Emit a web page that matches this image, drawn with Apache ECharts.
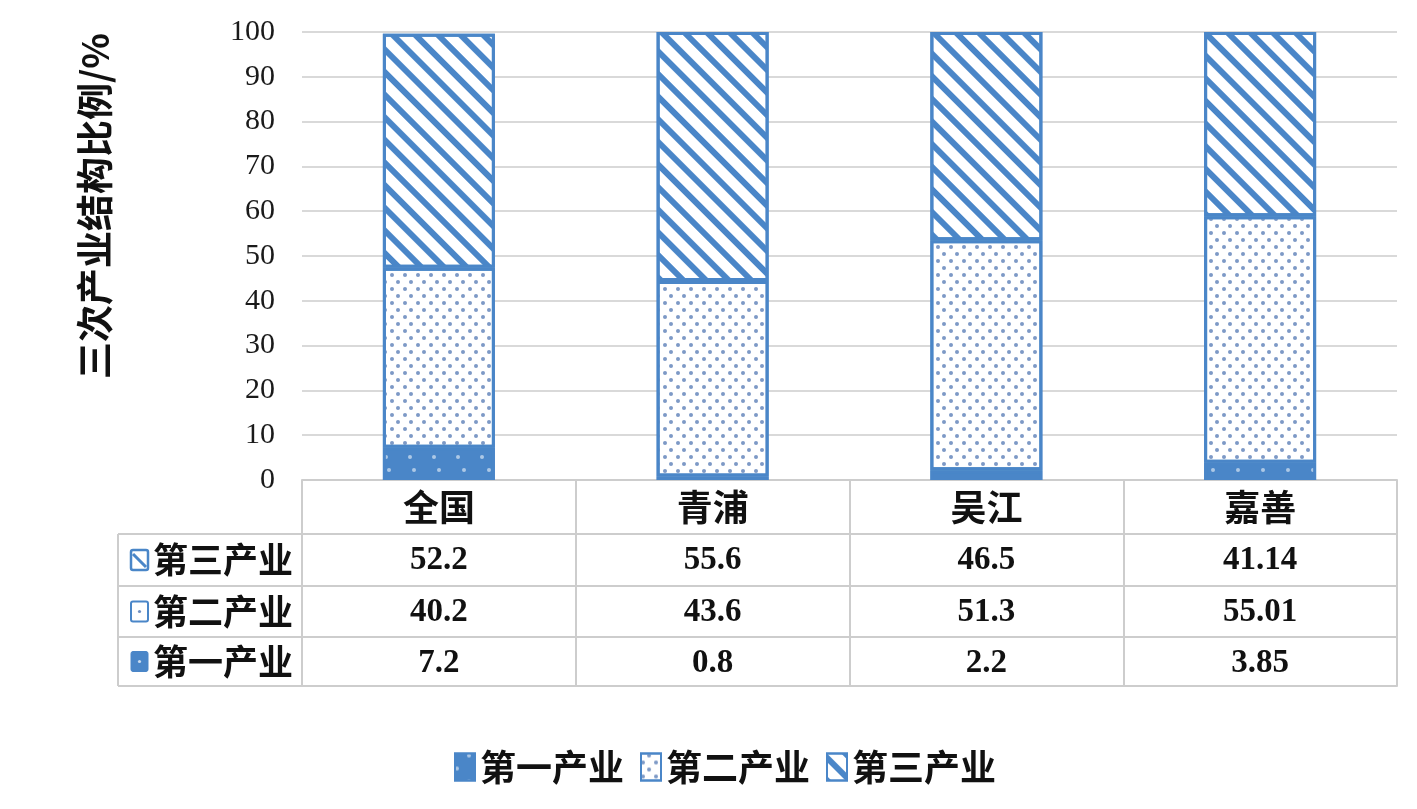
<!DOCTYPE html>
<html><head><meta charset="utf-8">
<script src="https://cdn.jsdelivr.net/npm/echarts@6/dist/echarts.min.js"></script>
<style>html,body{margin:0;padding:0;background:#fff}#c{width:1417px;height:809px}</style>
</head><body><div id="c"></div>
<script>
const categories = ['全国', '青浦', '吴江', '嘉善'];
const primary = [7.2, 0.8, 2.2, 3.85];
const secondary = [40.2, 43.6, 51.3, 55.01];
const tertiary = [52.2, 55.6, 46.5, 41.14];
const seriesNames = ['第一产业', '第二产业', '第三产业'];
const yAxisTitle = '三次产业结构比例/%';

const BLUE = '#4a86c8';
const LINE = '#cdcdcd';
const CJK = '"Noto Sans CJK SC", sans-serif';
const SERIF = '"Liberation Serif", "Times New Roman", serif';
const W = 1417, H = 809;
const gridLeft = 302, gridRight = 20, gridTop = 32, gridBottom = 329;
const baseY = H - gridBottom;              // 480
const rowHeights = [54, 52, 51, 49];      // header + 3 data rows
const tableLeft = 118;

const tableRows = [
  { name: seriesNames[2], values: tertiary, icon: 't' },
  { name: seriesNames[1], values: secondary, icon: 's' },
  { name: seriesNames[0], values: primary, icon: 'p' }
];

const offsets = [];
let acc = 0;
for (let i = 0; i < rowHeights.length; i++) { acc += rowHeights[i]; offsets.push(acc); }

const xAxes = [{
  type: 'category', data: categories, position: 'bottom',
  axisLine: { show: true, lineStyle: { color: LINE, width: 2 } },
  axisTick: { show: true, alignWithLabel: false, length: offsets[offsets.length - 1], lineStyle: { color: LINE, width: 2 } },
  axisLabel: { fontFamily: CJK, fontWeight: 'bold', fontSize: 36, color: '#111', margin: 9 }
}];
tableRows.forEach((r, k) => {
  xAxes.push({
    type: 'category', data: categories, position: 'bottom', offset: offsets[k],
    axisLine: { show: true, lineStyle: { color: LINE, width: 2 } },
    axisTick: { show: false },
    axisLabel: {
      fontFamily: SERIF, fontWeight: 'bold', fontSize: 33, color: '#111', margin: 10,
      formatter: (v, i) => String(r.values[i])
    }
  });
});
xAxes.push({
  type: 'category', data: categories, position: 'bottom', offset: offsets[offsets.length - 1],
  axisLine: { show: true, lineStyle: { color: LINE, width: 2 } },
  axisTick: { show: false }, axisLabel: { show: false }
});

const graphic = [];
graphic.push({
  type: 'text', x: 95, y: 206, rotation: Math.PI / 2,
  style: { text: yAxisTitle, font: 'bold 37px ' + CJK, fill: '#111', align: 'center', verticalAlign: 'middle' }
});
let y = baseY + rowHeights[0];
graphic.push({ type: 'line', shape: { x1: tableLeft, y1: y, x2: tableLeft, y2: baseY + offsets[offsets.length - 1] }, style: { stroke: LINE, lineWidth: 2 } });
graphic.push({ type: 'line', shape: { x1: tableLeft, y1: y, x2: gridLeft, y2: y }, style: { stroke: LINE, lineWidth: 2 } });
tableRows.forEach((r, k) => {
  const top = baseY + offsets[k];
  const h = rowHeights[k + 1];
  const cy = top + h / 2;
  graphic.push({ type: 'line', shape: { x1: tableLeft, y1: top + h, x2: gridLeft, y2: top + h }, style: { stroke: LINE, lineWidth: 2 } });
  const ix = 131, iw = 17, ih = 20, iy = cy - ih / 2;
  if (r.icon === 'p') {
    graphic.push({ type: 'rect', shape: { x: ix, y: iy, width: iw, height: ih, r: 2 }, style: { fill: BLUE, stroke: BLUE, lineWidth: 1 } });
    graphic.push({ type: 'circle', shape: { cx: ix + iw / 2, cy: cy, r: 1.6 }, style: { fill: 'rgba(255,255,255,0.7)' } });
  } else if (r.icon === 's') {
    graphic.push({ type: 'rect', shape: { x: ix, y: iy, width: iw, height: ih, r: 2 }, style: { fill: '#fff', stroke: BLUE, lineWidth: 2 } });
    graphic.push({ type: 'circle', shape: { cx: ix + iw / 2, cy: cy, r: 1.6 }, style: { fill: '#6f8fc0' } });
  } else {
    graphic.push({ type: 'rect', shape: { x: ix, y: iy, width: iw, height: ih, r: 2 }, style: { fill: '#fff', stroke: BLUE, lineWidth: 2.5 } });
    graphic.push({ type: 'line', shape: { x1: ix + 2, y1: iy + 4, x2: ix + iw - 2, y2: iy + ih - 3 }, style: { stroke: BLUE, lineWidth: 3 } });
  }
  graphic.push({
    type: 'text', x: 153, y: cy,
    style: { text: r.name, font: 'bold 35px ' + CJK, fill: '#111', align: 'left', verticalAlign: 'middle' }
  });
});

const decals = [
  { symbol: 'circle', symbolSize: 1, color: 'rgba(255,255,255,0.55)', dashArrayX: [[3.2, 19.8], [0, 11.5, 3.2, 8.3]], dashArrayY: [3.2, 8.3] },
  { symbol: 'circle', symbolSize: 1, color: '#7d99c6', dashArrayX: [[3.2, 8.3], [0, 5.75, 3.2, 2.55]], dashArrayY: [3.2, 2.55] },
  { symbol: 'rect', symbolSize: 1, color: BLUE, dashArrayX: [1, 0], dashArrayY: [6, 9.5], rotation: Math.PI / 4 }
];
const fills = [BLUE, '#ffffff', '#ffffff'];
const values = [primary, secondary, tertiary];

const series = seriesNames.map((n, i) => ({
  name: n, type: 'bar', stack: 'total', barWidth: 112, xAxisIndex: 0,
  data: values[i],
  itemStyle: { color: fills[i], borderColor: BLUE, borderWidth: 3, decal: decals[i] },
  emphasis: { disabled: true }
}));

const chart = echarts.init(document.getElementById('c'), null, { renderer: 'canvas' });
chart.setOption({
  backgroundColor: '#fff',
  animation: false,
  aria: { enabled: true, decal: { show: false } },
  grid: { left: gridLeft, right: gridRight, top: gridTop, bottom: gridBottom, containLabel: false },
  legend: {
    data: seriesNames, left: 449, top: 744, icon: 'rect',
    itemWidth: 20, itemHeight: 27, itemGap: 16,
    textStyle: { fontFamily: CJK, fontWeight: 'bold', fontSize: 36, color: '#111' }
  },
  xAxis: xAxes,
  yAxis: {
    type: 'value', min: 0, max: 100, interval: 10,
    axisLine: { show: false }, axisTick: { show: false },
    axisLabel: { fontFamily: SERIF, fontSize: 30, color: '#1a1a1a', margin: 27 },
    splitLine: { lineStyle: { color: '#d9d9d9', width: 2 } }
  },
  graphic: graphic,
  series: series
});
</script>
</body></html>
